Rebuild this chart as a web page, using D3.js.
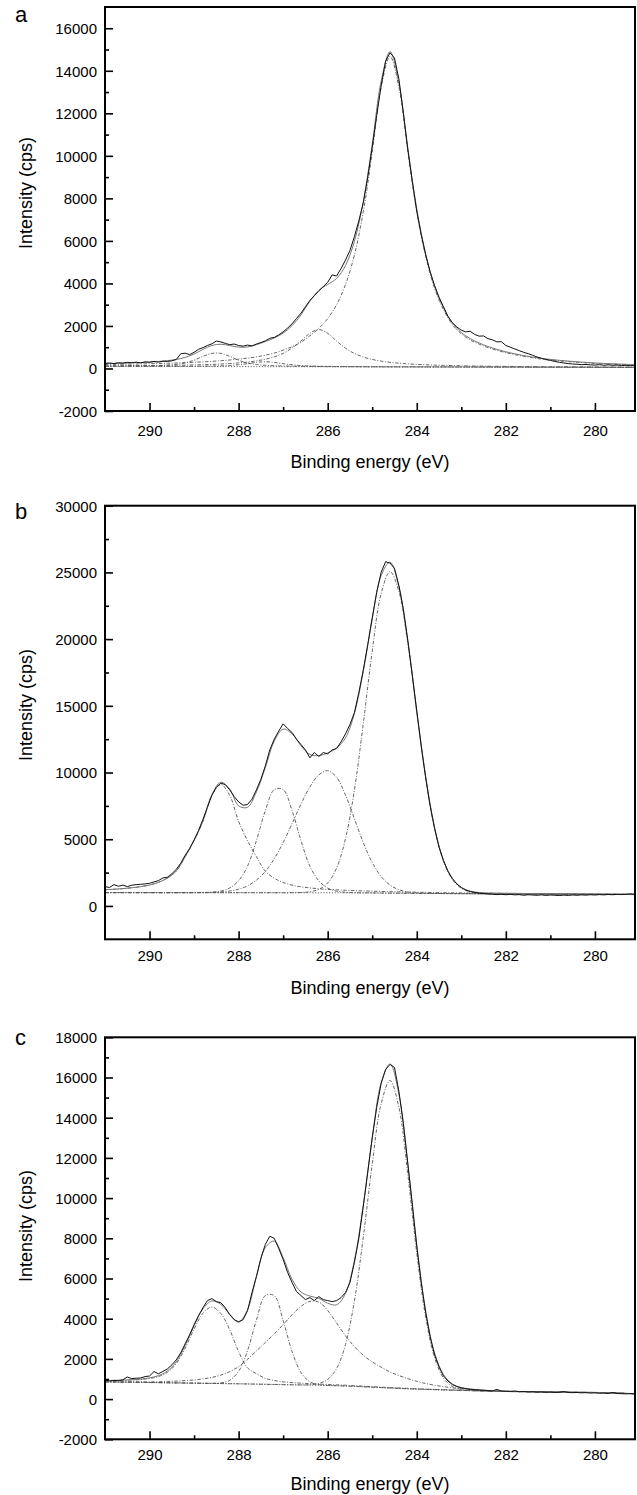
<!DOCTYPE html>
<html><head><meta charset="utf-8">
<script src="https://cdn.jsdelivr.net/npm/d3@7"></script>
<style>
html,body{margin:0;padding:0;background:#fff;}
svg{display:block;font-family:"Liberation Sans",Arial,Helvetica,sans-serif;}
</style></head><body>
<svg id="chart" width="637" height="1495"></svg>
<script>
// ---------- shared x data ----------
const xTicks = [290, 288, 286, 284, 282, 280];
const xMinorTicks = [289, 287, 285, 283, 281];
const energyGrid = [291.0,290.8,290.6,290.4,290.2,290.0,289.8,289.6,289.4,289.2,
  289.0,288.8,288.6,288.4,288.2,288.0,287.8,287.6,287.4,287.2,
  287.0,286.8,286.6,286.4,286.2,286.0,285.8,285.6,285.4,285.2,
  285.0,284.8,284.6,284.4,284.2,284.0,283.8,283.6,283.4,283.2,
  283.0,282.8,282.6,282.4,282.2,282.0,281.8,281.6,281.4,281.2,
  281.0,280.8,280.6,280.4,280.2,280.0,279.8,279.6,279.4,279.2,279.1];
const energyRaw = [291.0,290.9,290.8,290.7,290.6,290.5,290.4,290.3,290.2,290.1,
  290.0,289.9,289.8,289.7,289.6,289.5,289.4,289.3,289.2,289.1,
  289.0,288.9,288.8,288.7,288.6,288.5,288.4,288.3,288.2,288.1,
  288.0,287.9,287.8,287.7,287.6,287.5,287.4,287.3,287.2,287.1,
  287.0,286.9,286.8,286.7,286.6,286.5,286.4,286.3,286.2,286.1,
  286.0,285.9,285.8,285.7,285.6,285.5,285.4,285.3,285.2,285.1,
  285.0,284.9,284.8,284.7,284.6,284.5,284.4,284.3,284.2,284.1,
  284.0,283.9,283.8,283.7,283.6,283.5,283.4,283.3,283.2,283.1,
  283.0,282.9,282.8,282.7,282.6,282.5,282.4,282.3,282.2,282.1,
  282.0,281.9,281.8,281.7,281.6,281.5,281.4,281.3,281.2,281.1,
  281.0,280.9,280.8,280.7,280.6,280.5,280.4,280.3,280.2,280.1,
  280.0,279.9,279.8,279.7,279.6,279.5,279.4,279.3,279.2,279.1];

// ---------- panel a ----------
const yTicksA = [-2000,0,2000,4000,6000,8000,10000,12000,14000,16000];
const yMinorA = [-1000,1000,3000,5000,7000,9000,11000,13000,15000];
const rawA = [240,260,230,270,250,290,270,300,260,310,
  290,330,300,340,330,360,420,690,720,650,
  760,900,980,1080,1160,1290,1250,1180,1120,1150,
  1080,1050,1100,1060,1150,1220,1300,1420,1460,1580,
  1720,1900,2100,2350,2600,2900,3200,3420,3650,3850,
  4050,4400,4350,4700,5100,5550,6200,6950,7800,9000,
  10400,11900,13300,14450,14850,14600,13600,12000,10300,8800,
  7400,6300,5350,4550,3900,3350,2900,2450,2150,1950,
  1800,1720,1750,1600,1520,1530,1400,1350,1250,1260,
  1080,1000,920,840,760,700,620,540,480,420,
  380,330,290,260,230,210,200,180,190,170,
  160,180,150,170,150,160,140,150,130,140];
const bgA = [100,99,98,98,97,96,95,94,93,93,
  92,91,90,89,88,88,87,86,85,84,
  83,83,82,81,80,79,78,78,77,76,
  75,74,73,73,72,71,70,69,68,68,
  67,66,65,64,63,63,62,61,60,59,
  58,58,57,56,55,54,53,53,52,51,50];
const peakA1 = [88,94,100,108,117,127,138,150,165,180,
  200,220,245,275,310,350,400,460,540,640,
  780,940,1150,1460,1800,2270,2920,3870,5260,7300,
  10100,13150,14600,13150,10100,7300,5200,3700,2700,2000,
  1560,1280,1080,920,790,680,590,510,445,385,
  340,300,265,235,208,185,165,148,133,120,114];
const peakA2 = [27,29,32,35,38,43,47,53,59,67,
  77,88,103,121,145,175,216,272,350,463,
  630,875,1212,1575,1750,1575,1212,875,630,463,
  350,272,216,175,145,121,103,88,77,67,
  59,53,47,43,38,35,32,29,27,25,
  23,21,20,19,18,17,16,15,14,14,13];
const peakA3 = [11,13,16,20,25,33,45,65,100,170,
  300,480,620,620,480,300,170,100,65,45,
  33,25,20,16,13,11,10,9,8,8,
  7,7,6,6,6,5,5,5,5,4,
  4,4,4,4,4,3,3,3,3,3,
  3,3,3,3,2,2,2,2,2,2,2];
const peakA4 = [3,4,4,4,5,5,6,7,8,10,
  13,18,25,35,55,90,140,200,230,200,
  140,90,55,35,25,18,13,10,8,7,
  6,5,5,4,4,4,4,3,3,3,
  3,3,3,3,3,3,3,2,2,2,
  2,2,2,2,2,2,2,2,2,2,2];

// ---------- panel b ----------
const yTicksB = [0,5000,10000,15000,20000,25000,30000];
const yMinorB = [2500,7500,12500,17500,22500,27500];
const rawB = [1450,1380,1600,1480,1560,1450,1550,1600,1620,1650,
  1700,1800,1900,2100,2150,2400,2750,3200,3800,4300,
  4950,5650,6500,7400,8300,8900,9200,9100,8700,8200,
  7800,7550,7600,8000,8700,9500,10500,11700,12500,13100,
  13650,13300,13000,12500,12100,11700,11100,11500,11200,11500,
  11400,11700,11800,12300,12900,13600,14500,16000,17700,19600,
  21600,23500,25000,25800,25700,25300,24000,22200,19900,17300,
  14600,12000,9600,7500,5800,4400,3400,2600,2050,1650,
  1380,1200,1080,1020,960,930,900,880,850,880,
  840,870,830,850,800,840,820,800,830,790,
  820,800,780,810,790,820,800,830,810,840,
  820,850,830,860,840,870,850,880,900,870];
const bgB = [1000,1000,999,999,998,998,997,997,996,996,
  995,995,994,994,993,993,992,992,991,991,
  990,990,990,989,989,988,987,985,983,980,
  975,970,962,955,948,942,937,932,928,924,
  920,916,912,908,904,900,896,892,889,886,
  883,880,877,874,871,868,865,862,859,856,852];
const peakB1 = [220,250,300,365,445,570,770,1090,1620,2700,
  3900,5350,7300,8100,7300,5350,3900,2700,1620,1090,
  770,570,445,365,300,250,220,190,165,145,
  130,118,107,98,90,84,78,73,68,64,
  60,57,54,51,48,46,44,42,40,38,
  36,35,33,32,31,30,29,28,27,26,25];
const peakB2 = [0,0,0,0,0,0,0,0,0,0,
  3,12,40,120,350,900,1990,3910,6160,7730,
  7730,6160,3910,1990,900,350,120,40,12,3,
  0,0,0,0,0,0,0,0,0,0,
  0,0,0,0,0,0,0,0,0,0,
  0,0,0,0,0,0,0,0,0,0,0];
const peakB3 = [0,0,0,0,0,0,0,0,0,0,
  3,9,23,55,124,262,512,942,1601,2544,
  3761,5179,6643,7933,8830,9150,8656,7320,5554,3761,
  2278,1235,601,262,102,36,11,3,0,0,
  0,0,0,0,0,0,0,0,0,0,
  0,0,0,0,0,0,0,0,0,0,0];
const peakB4 = [0,0,0,0,0,0,0,0,0,0,
  0,0,0,0,0,0,0,0,0,0,
  0,4,19,75,253,735,1858,4063,7712,12701,
  18123,22437,24100,22606,18678,13568,8676,4892,2427,1058,
  407,137,41,10,2,0,0,0,0,0,
  0,0,0,0,0,0,0,0,0,0,0];

// ---------- panel c ----------
const yTicksC = [-2000,0,2000,4000,6000,8000,10000,12000,14000,16000,18000];
const yMinorC = [-1000,1000,3000,5000,7000,9000,11000,13000,15000,17000];
const rawC = [950,900,930,920,960,1100,1020,1040,1050,1120,
  1150,1370,1260,1380,1500,1700,1950,2300,2750,3200,
  3700,4150,4550,4900,5000,4850,4800,4550,4200,3950,
  3850,3950,4400,5300,6100,7000,7700,8100,8000,7500,
  6950,6300,5800,5350,5150,4950,5050,4900,5100,4950,
  4900,4850,4900,5050,5300,5800,6800,8000,9600,11300,
  13000,14500,15700,16400,16650,16500,15300,13700,11700,9700,
  7600,5800,4300,3100,2200,1600,1150,900,720,620,
  560,520,490,470,450,440,420,410,480,400,
  390,380,400,370,380,360,370,350,360,340,
  350,330,340,380,330,320,330,310,320,300,
  310,290,300,280,330,280,270,260,280,260];
const bgC = [860,853,846,840,833,826,820,813,806,800,
  793,787,780,774,767,761,753,745,736,728,
  719,711,702,694,685,677,665,650,632,612,
  592,572,552,533,515,497,483,469,456,444,
  432,420,408,397,387,378,372,367,361,356,
  350,345,340,335,331,326,318,305,290,270,255];
const peakC1 = [62,75,90,110,140,200,300,520,960,1740,
  2687,3485,3800,3485,2687,1600,800,520,300,200,
  140,110,90,75,62,52,45,40,35,31,
  28,25,22,20,18,16,15,14,13,12,
  11,10,10,9,9,8,8,8,7,7,
  7,7,6,6,6,6,6,5,5,5,5];
const peakC2 = [0,0,0,0,0,0,0,0,0,0,
  0,0,5,33,168,621,1656,3188,4416,4416,
  3188,1656,621,168,33,5,0,0,0,0,
  0,0,0,0,0,0,0,0,0,0,
  0,0,0,0,0,0,0,0,0,0,
  0,0,0,0,0,0,0,0,0,0,0];
const peakC3 = [3,5,9,14,22,32,45,65,90,120,
  160,220,300,420,600,850,1230,1650,2080,2516,
  2990,3482,3910,4166,4141,3734,3121,2503,1978,1571,
  1260,1016,798,638,504,386,294,218,164,118,
  84,59,42,25,17,8,4,2,0,0,
  0,0,0,0,0,0,0,0,0,0,0];
const peakC4 = [0,0,0,0,0,0,0,0,0,0,
  0,0,0,0,0,0,0,0,0,0,
  0,0,5,23,92,303,857,2066,4253,7451,
  11108,14122,15300,13969,10649,6778,3596,1591,588,181,
  47,11,2,0,0,0,0,0,0,0,
  0,0,0,0,0,0,0,0,0,0,0];

const panelLetters = ['a','b','c'];
const xTitle = 'Binding energy (eV)';
const yTitle = 'Intensity (cps)';

// ---------- layout ----------
const left = 105, right = 635;
const panels = [
  {letter: panelLetters[0], raw: rawA, bg: bgA, peaks: [peakA1,peakA2,peakA3,peakA4],
   yTicks: yTicksA, yMinor: yMinorA, yDomain: [-2000, 17000],
   top: 7, bottom: 411, tickBase: 436, titleBase: 468, yTitleCenter: 193, letterBase: 22},
  {letter: panelLetters[1], raw: rawB, bg: bgB, peaks: [peakB1,peakB2,peakB3,peakB4],
   yTicks: yTicksB, yMinor: yMinorB, yDomain: [-2500, 30000],
   top: 505.7, bottom: 939.3, tickBase: 961, titleBase: 994, yTitleCenter: 705, letterBase: 519},
  {letter: panelLetters[2], raw: rawC, bg: bgC, peaks: [peakC1,peakC2,peakC3,peakC4],
   yTicks: yTicksC, yMinor: yMinorC, yDomain: [-2000, 18000],
   top: 1037.3, bottom: 1439.3, tickBase: 1460.5, titleBase: 1490, yTitleCenter: 1226, letterBase: 1045}
];

const svg = d3.select('#chart');
const x = d3.scaleLinear().domain([291, 279.1]).range([left, right]);

panels.forEach((p, pi) => {
  const y = d3.scaleLinear().domain(p.yDomain).range([p.bottom, p.top]);
  const g = svg.append('g');
  const clipId = 'clip' + pi;
  svg.append('defs').append('clipPath').attr('id', clipId)
    .append('rect').attr('x', left).attr('y', p.top).attr('width', right - left).attr('height', p.bottom - p.top);

  const smooth = d3.line().x(d => x(d[0])).y(d => y(d[1])).curve(d3.curveCatmullRom.alpha(0.5));
  const straight = d3.line().x(d => x(d[0])).y(d => y(d[1]));

  const plot = g.append('g').attr('clip-path', `url(#${clipId})`);

  // background
  const bgPts = energyGrid.map((e, i) => [e, p.bg[i]]);
  plot.append('path').attr('d', straight(bgPts)).attr('fill', 'none')
    .attr('stroke', '#666').attr('stroke-width', 1).attr('stroke-dasharray', '1.2,1.6');

  // components (on background)
  p.peaks.forEach(pk => {
    const pts = energyGrid.map((e, i) => [e, p.bg[i] + pk[i]]);
    plot.append('path').attr('d', smooth(pts)).attr('fill', 'none')
      .attr('stroke', '#555').attr('stroke-width', 0.9).attr('stroke-dasharray', '3.5,1.6,1,1.6');
  });

  // envelope = background + sum of components
  const fitPts = energyGrid.map((e, i) => [e, p.bg[i] + d3.sum(p.peaks, pk => pk[i])]);
  plot.append('path').attr('d', smooth(fitPts)).attr('fill', 'none')
    .attr('stroke', '#777').attr('stroke-width', 1);

  // raw spectrum
  const rawPts = energyRaw.map((e, i) => [e, p.raw[i]]);
  plot.append('path').attr('d', straight(rawPts)).attr('fill', 'none')
    .attr('stroke', '#111').attr('stroke-width', 1).attr('stroke-linejoin', 'round');

  // axes
  const xAxis = d3.axisBottom(x).tickValues(xTicks).tickSizeInner(-8).tickSizeOuter(0).tickFormat(d => String(d));
  const xg = g.append('g').attr('transform', `translate(0,${p.bottom})`).call(xAxis);
  xg.select('.domain').remove();
  xg.selectAll('line').attr('stroke', '#000').attr('stroke-width', 1.6);
  xg.selectAll('text').attr('y', p.tickBase - p.bottom).attr('dy', 0)
    .attr('font-size', 15).attr('font-family', '"Liberation Sans",Arial,sans-serif').attr('fill', '#000');
  const xMinorAxis = d3.axisBottom(x).tickValues(xMinorTicks).tickSizeInner(-4).tickSizeOuter(0).tickFormat('');
  const xmg = g.append('g').attr('transform', `translate(0,${p.bottom})`).call(xMinorAxis);
  xmg.select('.domain').remove();
  xmg.selectAll('line').attr('stroke', '#000').attr('stroke-width', 1.6);

  const yAxis = d3.axisLeft(y).tickValues(p.yTicks).tickSizeInner(-8).tickSizeOuter(0).tickPadding(8).tickFormat(d => String(d));
  const yg = g.append('g').attr('transform', `translate(${left},0)`).call(yAxis);
  yg.select('.domain').remove();
  yg.selectAll('line').attr('stroke', '#000').attr('stroke-width', 1.6);
  yg.selectAll('text').attr('dy', '0.36em').attr('font-size', 15)
    .attr('font-family', '"Liberation Sans",Arial,sans-serif').attr('fill', '#000');
  const yMinorAxis = d3.axisLeft(y).tickValues(p.yMinor).tickSizeInner(-4).tickSizeOuter(0).tickFormat('');
  const ymg = g.append('g').attr('transform', `translate(${left},0)`).call(yMinorAxis);
  ymg.select('.domain').remove();
  ymg.selectAll('line').attr('stroke', '#000').attr('stroke-width', 1.6);

  // frame
  g.append('rect').attr('x', left).attr('y', p.top).attr('width', right - left).attr('height', p.bottom - p.top)
    .attr('fill', 'none').attr('stroke', '#000').attr('stroke-width', 2);

  // titles
  g.append('text').attr('x', (left + right) / 2).attr('y', p.titleBase).attr('text-anchor', 'middle')
    .attr('font-size', 18).attr('fill', '#000').text(xTitle);
  g.append('text').attr('transform', `translate(32,${p.yTitleCenter}) rotate(-90)`).attr('text-anchor', 'middle')
    .attr('font-size', 18).attr('fill', '#000').text(yTitle);
  g.append('text').attr('x', 15).attr('y', p.letterBase).attr('font-size', 22).attr('fill', '#000').text(p.letter);
});
</script>
</body></html>
